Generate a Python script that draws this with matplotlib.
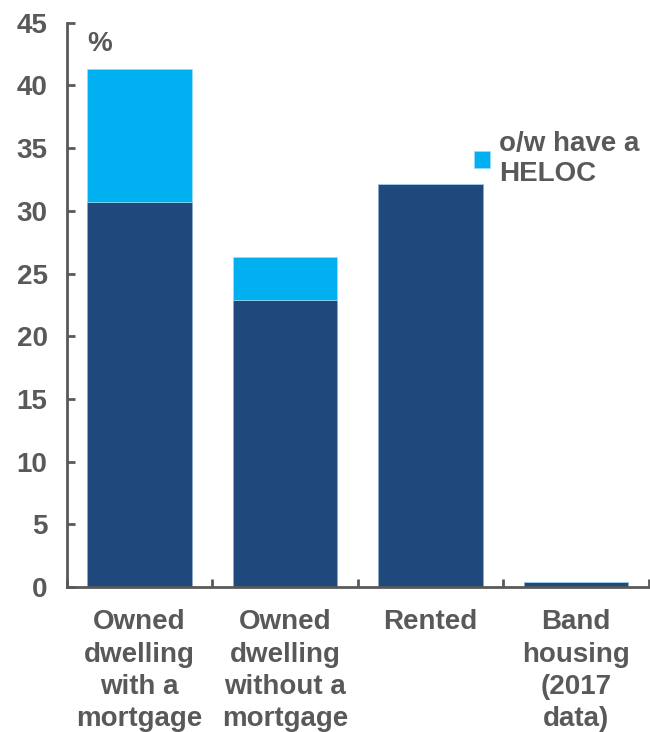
import numpy as np
import matplotlib.pyplot as plt

plt.rcParams['font.family'] = ['Liberation Sans', 'DejaVu Sans']
plt.rcParams['font.weight'] = 'bold'

# data
categories = ['Owned\ndwelling\nwith a\nmortgage', 'Owned\ndwelling\nwithout a\nmortgage',
              'Rented', 'Band\nhousing\n(2017\ndata)']
base_vals = [30.7, 22.9, 32.1, 0.4]
heloc_vals = [10.6, 3.4, 0.0, 0.0]

navy = '#1F497D'
cyan = '#00B0F0'
grey = '#595959'

fig = plt.figure(figsize=(6.5, 7.32), dpi=100)
ax = fig.add_axes([0.103, 0.198, 0.895, 0.771])

x = np.arange(len(categories))
ax.bar(x, base_vals, width=0.72, color=navy, edgecolor='#8EA9C8', linewidth=0.5)
hb = ax.bar(x, heloc_vals, bottom=base_vals, width=0.72, color=cyan, edgecolor='#9CDCF5',
            linewidth=0.5, label='o/w have a\nHELOC')

ax.set_xlim(-0.5, 3.5)
ax.set_ylim(0, 45)
ax.set_yticks(np.arange(0, 46, 5))
ax.set_xticks(np.arange(-0.5, 3.6, 1))
ax.set_xticklabels([])
ax.set_xticks(x, minor=True)
ax.set_xticklabels(categories, minor=True, linespacing=1.32)

for s in ['top', 'right']:
    ax.spines[s].set_visible(False)
for s in ['left', 'bottom']:
    ax.spines[s].set_color(grey)
    ax.spines[s].set_linewidth(2)

ax.tick_params(axis='both', which='major', direction='in', length=6, width=2, color=grey,
               labelcolor=grey, labelsize=20)
ax.tick_params(axis='y', pad=14)
ax.tick_params(axis='x', which='minor', length=0, labelcolor=grey, labelsize=20, pad=16)

ax.text(0.035, 0.985, '%', transform=ax.transAxes, fontsize=20, color=grey,
        ha='left', va='top', fontweight='bold')

leg = ax.legend(handles=[hb], loc='upper left', bbox_to_anchor=(0.68, 0.827), frameon=False,
                fontsize=20, handlelength=0.6, handleheight=0.6, handletextpad=0.3,
                borderaxespad=0)
for t in leg.get_texts():
    t.set_color(grey)

fig.savefig('out.png', dpi=100)
